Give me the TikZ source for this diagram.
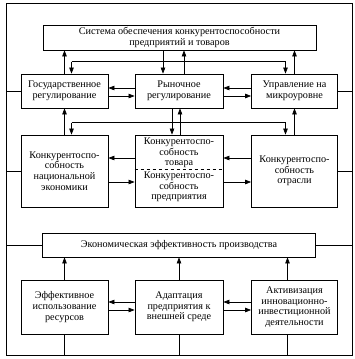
\documentclass[tikz,border=0pt]{standalone}
\usepackage{fontspec}
\setmainfont{Liberation Serif}
\usetikzlibrary{arrows.meta, positioning, calc}

\begin{document}
\begin{tikzpicture}[x=1pt, y=-1pt,
    block/.style={draw, line width=0.8pt, align=center, inner sep=1pt, font=\fontsize{10.2}{10.6}\selectfont},
    flow/.style={-{Triangle[length=6pt, width=4.5pt]}, line width=0.7pt},
    link/.style={line width=0.7pt},
]
  \useasboundingbox (0,0) rectangle (355,359);
  \node[draw, line width=0.7pt, minimum width=346pt, minimum height=352pt, inner sep=0pt] (frame) at (179,179) {};

  % upper level
  \node[block, minimum width=273pt, minimum height=25pt] (sys) at (179.5,37.5)
    {Система обеспечения конкурентоспособности\\предприятий и товаров};
  \node[block, minimum width=87pt, minimum height=34pt] (gov) at (64.5,91) {Государственное\\регулирование};
  \node[block, minimum width=88pt, minimum height=34pt] (mkt) at (179,91) {Рыночное\\регулирование};
  \node[block, minimum width=86pt, minimum height=34pt] (mgmt) at (294.5,91) {Управление на\\микроуровне};

  \node[block, minimum width=87pt, minimum height=72pt] (nat) at (64.5,171)
    {Конкурентоспо-\\собность\\национальной\\экономики};
  \node[block, minimum width=88pt, minimum height=72pt] (prod) at (179,171) {};
  \node[block, draw=none] (prodtop) at (179,153) {Конкурентоспо-\\собность\\товара};
  \node[block, draw=none] (prodbot) at (179,187) {Конкурентоспо-\\собность\\предприятия};
  \node[block, minimum width=86pt, minimum height=72pt] (ind) at (294.5,171)
    {Конкурентоспо-\\собность\\отрасли};
  \draw[dashed, line width=0.5pt] ($(prod.west)+(0,-2)$) -- ($(prod.east)+(0,-2)$);

  % lower level
  \node[block, minimum width=273pt, minimum height=24pt] (eff) at (179,245)
    {Экономическая эффективность производства};
  \node[block, minimum width=87pt, minimum height=54pt] (res) at (64.5,307)
    {Эффективное\\использование\\ресурсов};
  \node[block, minimum width=88pt, minimum height=54pt] (adapt) at (179,307)
    {Адаптация\\предприятия к\\внешней среде};
  \node[block, minimum width=86pt, minimum height=54pt] (innov) at (294.5,307)
    {Активизация\\инновационно-\\инвестиционной\\деятельности};

  % ties to the frame
  \foreach \n in {gov, nat, eff} \draw[link] (\n.west) -- (\n.west -| frame.west);
  \foreach \n in {mgmt, ind, eff} \draw[link] (\n.east) -- (\n.east -| frame.east);
  \coordinate (innovx) at ($(innov.south)+(-7,0)$);
  \draw[link] (res.south) -- (res.south |- frame.south);
  \draw[link] (adapt.south) -- (adapt.south |- frame.south);
  \draw[link] (innovx) -- (innovx |- frame.south);

  % system <-> first row
  \draw[flow] (gov.north) -- (gov.north |- sys.south);
  \draw[flow] (mgmt.north) -- (mgmt.north |- sys.south);
  \coordinate (busAL) at ($(gov.north)+(7,-12)$);
  \coordinate (busAR) at ($(mgmt.north)+(-9,-12)$);
  \draw[link] (busAL) -- (busAR);
  \draw[flow] (busAL) -- (busAL |- gov.north);
  \draw[flow] (busAR) -- (busAR |- mgmt.north);
  \coordinate (mktin) at ($(mkt.north)+(-16,0)$);
  \coordinate (mktout) at ($(mkt.north)+(5,0)$);
  \draw[flow] (mktin |- sys.south) -- (mktin);
  \draw[flow] (mktout) -- (mktout |- sys.south);

  % first row <-> second row
  \draw[flow] (nat.north) -- (nat.north |- gov.south);
  \draw[flow] (ind.north) -- (ind.north |- mgmt.south);
  \coordinate (busBL) at ($(nat.north)+(7,-12)$);
  \coordinate (busBR) at ($(ind.north)+(-9,-12)$);
  \draw[link] (busBL) -- (busBR);
  \draw[flow] (busBL) -- (busBL |- nat.north);
  \draw[flow] (busBR) -- (busBR |- ind.north);
  \coordinate (prodin) at ($(mkt.south)+(-7,0)$);
  \coordinate (prodout) at ($(prod.north)+(1,0)$);
  \draw[flow] (prodin) -- (prodin |- prod.north);
  \draw[flow] (prodout) -- (prodout |- mkt.south);

  % horizontal pairs
  \draw[flow] ($(mkt.west)+(0,-3)$) -- ($(gov.east)+(0,-3)$);
  \draw[flow] ($(gov.east)+(0,5)$) -- ($(mkt.west)+(0,5)$);
  \draw[flow] ($(mgmt.west)+(0,-3)$) -- ($(mkt.east)+(0,-3)$);
  \draw[flow] ($(mkt.east)+(0,5)$) -- ($(mgmt.west)+(0,5)$);
  \draw[flow] ($(prod.west)+(0,-13)$) -- ($(nat.east)+(0,-13)$);
  \draw[flow] ($(nat.east)+(0,11)$) -- ($(prod.west)+(0,11)$);
  \draw[flow] ($(ind.west)+(0,-13)$) -- ($(prod.east)+(0,-13)$);
  \draw[flow] ($(prod.east)+(0,11)$) -- ($(ind.west)+(0,11)$);
  \draw[flow] ($(adapt.west)+(0,-5)$) -- ($(res.east)+(0,-5)$);
  \draw[flow] ($(res.east)+(0,3)$) -- ($(adapt.west)+(0,3)$);
  \draw[flow] ($(innov.west)+(0,-5)$) -- ($(adapt.east)+(0,-5)$);
  \draw[flow] ($(adapt.east)+(0,3)$) -- ($(innov.west)+(0,3)$);

  % lower row -> efficiency
  \draw[flow] (res.north) -- (res.north |- eff.south);
  \draw[flow] (adapt.north) -- (adapt.north |- eff.south);
  \draw[flow] (innovx |- innov.north) -- (innovx |- eff.south);
\end{tikzpicture}
\end{document}
